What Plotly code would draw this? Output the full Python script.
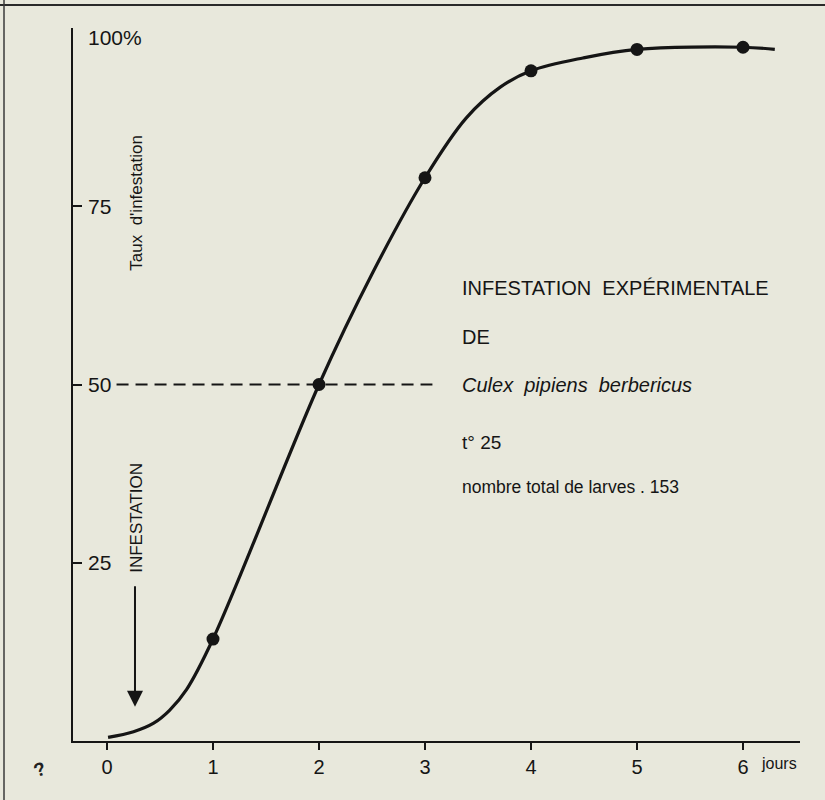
import plotly.graph_objects as go

# --- data ---
days = [1, 2, 3, 4, 5, 6]
infestation_rate = [14.3, 50, 79, 94, 97, 97.3]

# smooth hand-drawn curve
curve_days = [0.01, 0.25, 0.44, 0.59, 0.75, 1, 2, 2.5, 3, 3.39, 3.71, 4, 4.49, 5, 6, 6.3]
curve_rate = [0.5, 1.3, 2.5, 4.3, 7.2, 14.3, 50, 65.5, 79, 87.4, 91.7, 94, 95.8, 97, 97.3, 97]

x_ticks = [0, 1, 2, 3, 4, 5, 6]
x_tick_labels = ["0", "1", "2", "3", "4", "5", "6"]
y_ticks = [25, 50, 75, 100]
y_tick_labels = ["25", "50", "75", "100%"]

ref_level = 50
ref_span = [0.09, 3.07]

BG = "#e8e8dc"
INK = "#151515"
FONT = "Liberation Sans"

fig = go.Figure()

# dashed 50% reference line
fig.add_trace(go.Scatter(
    x=ref_span, y=[ref_level, ref_level], mode="lines",
    line=dict(color=INK, width=2, dash="12px,7px"), hoverinfo="skip", showlegend=False))

# curve
fig.add_trace(go.Scatter(
    x=curve_days, y=curve_rate, mode="lines",
    line=dict(color=INK, width=3.2, shape="spline", smoothing=1.0),
    hoverinfo="skip", showlegend=False))

# observed points
fig.add_trace(go.Scatter(
    x=days, y=infestation_rate, mode="markers",
    marker=dict(color=INK, size=13), showlegend=False))

annotations = []
# y tick labels, placed to the right of the axis
for v, t in zip(y_ticks, y_tick_labels):
    dy = -9 if v == 100 else 0
    annotations.append(dict(x=-0.31, y=v, xref="x", yref="y", text=t, showarrow=False,
                            xanchor="left", yanchor="middle", yshift=dy, xshift=12,
                            font=dict(family=FONT, size=21, color=INK)))

# axis titles (vertical)
annotations.append(dict(x=0.283, y=75.5, text="Taux  d'infestation", textangle=-90,
                        showarrow=False, font=dict(family=FONT, size=17, color=INK)))
annotations.append(dict(x=0.283, y=31.3, text="INFESTATION", textangle=-90,
                        showarrow=False, font=dict(family=FONT, size=17, color=INK)))
# arrow
annotations.append(dict(x=0.264, y=4.8, ax=0.264, ay=21.9, axref="x", ayref="y",
                        xref="x", yref="y", text="", showarrow=True, arrowhead=2,
                        arrowsize=1.6, arrowwidth=2, arrowcolor=INK))

# legend-like text block
block = [
    ("INFESTATION  EXPÉRIMENTALE", 63.5, 20),
    ("DE", 56.7, 20),
    ("<i>Culex  pipiens  berbericus</i>", 49.9, 20),
    ("t° 25", 41.9, 19),
    ("nombre total de larves . 153", 35.6, 17.5),
]
for txt, yy, sz in block:
    annotations.append(dict(x=3.33, y=yy, text=txt, showarrow=False, xanchor="left",
                            yanchor="middle", font=dict(family=FONT, size=sz, color=INK)))

annotations.append(dict(x=0.971, y=-0.031, xref="paper", yref="paper", text="jours",
                        showarrow=False, xanchor="center", yanchor="middle",
                        font=dict(family=FONT, size=16, color=INK)))
annotations.append(dict(x=-0.046, y=-0.04, xref="paper", yref="paper", text="<b>?</b>",
                        showarrow=False, textangle=-20, xanchor="center", yanchor="middle",
                        font=dict(family=FONT, size=19, color="#222")))

shapes = [
    # page frame lines from the scan
    dict(type="line", xref="paper", yref="paper", x0=-0.1004, x1=1.0344, y0=1.0323, y1=1.0323,
         line=dict(color="#2a2a2a", width=2)),
    dict(type="line", xref="paper", yref="paper", x0=-0.0949, x1=-0.0949, y0=-0.0827, y1=1.0393,
         line=dict(color="#3a3a3a", width=1.5)),
]

fig.update_layout(
    width=825, height=800,
    margin=dict(l=73, r=25, t=28, b=59),
    paper_bgcolor=BG, plot_bgcolor=BG,
    showlegend=False,
    annotations=annotations, shapes=shapes,
    xaxis=dict(range=[-0.3208, 6.5377], showgrid=False, zeroline=False,
               showline=True, linecolor=INK, linewidth=2,
               ticks="outside", ticklen=7, tickwidth=2, tickcolor=INK,
               tickvals=x_ticks, ticktext=x_tick_labels,
               tickfont=dict(family=FONT, size=20, color=INK)),
    yaxis=dict(range=[0, 100], showgrid=False, zeroline=False,
               showline=True, linecolor=INK, linewidth=2,
               ticks="inside", ticklen=9, tickwidth=2, tickcolor=INK,
               tickvals=y_ticks, showticklabels=False),
)

fig.write_html("out.html", config={"displayModeBar": False},
               post_script="document.body.style.margin='0';document.body.style.background='%s';" % BG)
